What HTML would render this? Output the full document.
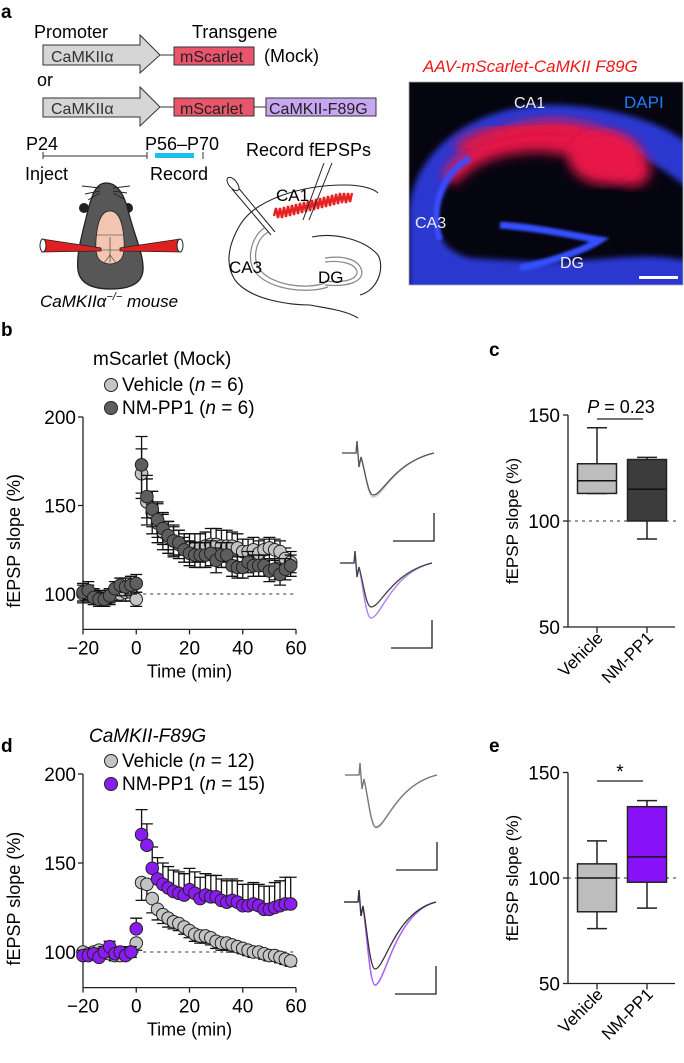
<!DOCTYPE html>
<html><head><meta charset="utf-8"><style>
html,body{margin:0;padding:0;background:#fff}
svg{display:block;font-family:"Liberation Sans",Arial,sans-serif}
</style></head><body>
<svg id="fig" width="684" height="1063" viewBox="0 0 684 1063" xmlns="http://www.w3.org/2000/svg">
<defs>
<filter id="blur6"><feGaussianBlur stdDeviation="6"/></filter>
<filter id="blur3"><feGaussianBlur stdDeviation="3"/></filter>
<filter id="blur1"><feGaussianBlur stdDeviation="1.2"/></filter>
<clipPath id="micClip"><rect x="409" y="82" width="274" height="203"/></clipPath>
</defs>

<!-- Panel a -->
<g>
<text x="1" y="18" font-size="19" font-weight="bold">a</text>
<text x="34" y="38" font-size="18">Promoter</text>
<text x="192" y="38" font-size="18">Transgene</text>
<path d="M43,45 H140 V35 L160,55 L140,73 V65 H43 Z" fill="#d6d6d6" stroke="#333" stroke-width="1"/>
<text x="51" y="62" font-size="16" fill="#333">CaMKIIα</text>
<line x1="160" y1="55" x2="174" y2="55" stroke="#333"/>
<rect x="174" y="47" width="80" height="18" fill="#e9566b" stroke="#333"/>
<text x="180" y="62" font-size="16" fill="#222">mScarlet</text>
<text x="264" y="62" font-size="18">(Mock)</text>
<text x="37" y="86" font-size="18">or</text>
<path d="M43,98 H140 V87 L160,107 L140,126 V117 H43 Z" fill="#d6d6d6" stroke="#333" stroke-width="1"/>
<text x="51" y="114" font-size="16" fill="#333">CaMKIIα</text>
<line x1="160" y1="107" x2="174" y2="107" stroke="#333"/>
<rect x="174" y="98" width="80" height="18" fill="#e9566b" stroke="#333"/>
<text x="180" y="114" font-size="16" fill="#222">mScarlet</text>
<line x1="254" y1="107" x2="266" y2="107" stroke="#333"/>
<rect x="266" y="98" width="110" height="18" fill="#c9a6f2" stroke="#333"/>
<text x="269" y="114" font-size="16" fill="#222">CaMKII-F89G</text>
<!-- timeline -->
<text x="26" y="150" font-size="18">P24</text>
<text x="145" y="150" font-size="18">P56–P70</text>
<line x1="43" y1="156" x2="147" y2="156" stroke="#333"/>
<line x1="43" y1="152" x2="43" y2="159" stroke="#333"/>
<line x1="147" y1="152" x2="147" y2="159" stroke="#333"/>
<line x1="203" y1="152" x2="203" y2="159" stroke="#333"/>
<rect x="155" y="153" width="39" height="5" fill="#1bbfec"/>
<text x="25" y="180" font-size="18">Inject</text>
<text x="150" y="180" font-size="18">Record</text>
<!-- mouse -->
<g>
<circle cx="84" cy="208" r="5" fill="#222"/><circle cx="128" cy="208" r="5" fill="#222"/>
<path d="M106,183 C96,183 92,195 88,210 C82,235 76,255 78,270 C80,285 95,289 111,289 C127,289 142,285 143,270 C144,255 134,235 128,210 C124,195 118,183 106,183 Z" fill="#575757" stroke="#222" stroke-width="1.3"/>
<path d="M110,211 C100,211 97,225 96,240 C95,255 97,263 110,264 C123,263 125,255 124,240 C123,225 120,211 110,211 Z" fill="#f2c6b2" stroke="#222" stroke-width="0.8"/>
<path d="M97,235 H123 M96,250 H124 M110,237 V262 M104,263 L110,255 L116,263" stroke="#333" stroke-width="0.6" fill="none"/>
<g stroke="#222" stroke-width="0.9"><line x1="100" y1="188" x2="82" y2="186"/><line x1="100" y1="191" x2="85" y2="194"/><line x1="100" y1="193" x2="88" y2="200"/><line x1="113" y1="188" x2="130" y2="186"/><line x1="113" y1="191" x2="127" y2="193"/><line x1="113" y1="193" x2="124" y2="199"/></g>
<path d="M42,239 L101,248 L101,251 L42,252 Z" fill="#e02020" stroke="#222" stroke-width="0.8"/>
<ellipse cx="43" cy="245.5" rx="3" ry="6.5" fill="#fff" stroke="#222"/>
<path d="M180,239 L120,248 L120,251 L180,252 Z" fill="#e02020" stroke="#222" stroke-width="0.8"/>
<ellipse cx="180" cy="245.5" rx="3" ry="6.5" fill="#fff" stroke="#222"/>
</g>
<text x="40" y="307" font-size="17" font-style="italic">CaMKIIα<tspan font-size="11" dy="-7">−/−</tspan><tspan dy="7"> mouse</tspan></text>
<!-- hippocampus sketch -->
<g fill="none">
<path d="M240,225 C255,200 300,185 345,185 C365,185 375,190 378,193 M240,225 C228,245 225,265 235,280 C250,300 290,305 310,305" stroke="#222" stroke-width="1.1"/>
<path d="M310,305 C325,308 345,310 358,318" stroke="#222" stroke-width="1.1"/>
<path d="M312,237 C335,232 365,240 378,255 C385,268 378,290 360,295" stroke="#222" stroke-width="1.1"/>
<path d="M268,232 C255,240 252,260 260,270 C272,285 305,290 325,283" stroke="#888" stroke-width="1.2"/>
<path d="M264,228 C250,238 246,262 256,273 C270,290 308,294 328,287" stroke="#888" stroke-width="1.2"/>
<path d="M325,258 C345,255 360,260 362,272 C362,283 345,287 325,285 M325,262 C342,260 356,264 357,272 C357,280 343,283 325,281" stroke="#888" stroke-width="1.2"/>
<path d="M274,216 l2,-8 l2,10 l2,-10 l2,10 l2,-11 l2,10 l2,-11 l2,10 l2,-11 l2,10 l2,-11 l2,10 l2,-11 l2,10 l2,-11 l2,10 l2,-11 l2,10 l2,-11 l2,10 l2,-11 l2,10 l2,-11 l2,10 l2,-11 l2,10 l2,-11 l2,10 l2,-11 l2,10 l2,-11 l2,10 l2,-11 l2,10 l2,-10 l2,10 l2,-10 l2,9 l2,-9" stroke="#e52222" stroke-width="2.4"/>
<line x1="236" y1="185" x2="275" y2="232" stroke="#222"/><line x1="232" y1="189" x2="271" y2="235" stroke="#222"/>
<ellipse cx="233" cy="184" rx="4" ry="8" transform="rotate(-40 233 184)" stroke="#222" fill="#fff"/>
<line x1="324" y1="163" x2="303" y2="220" stroke="#222"/><line x1="332" y1="163" x2="309" y2="220" stroke="#222"/>
</g>
<text x="246" y="156" font-size="18">Record fEPSPs</text>
<text x="276" y="201" font-size="17">CA1</text>
<text x="229" y="273" font-size="17">CA3</text>
<text x="318" y="283" font-size="17">DG</text>
<!-- microscope -->
<text x="423" y="72" font-size="17" font-style="italic" fill="#f01818">AAV-mScarlet-CaMKII F89G</text>
<g clip-path="url(#micClip)">
<rect x="409" y="82" width="274" height="203" fill="#050510"/>
<path d="M409,210 C415,150 470,110 540,105 C600,103 660,120 690,145 L690,190 C660,165 620,140 560,135 C500,133 455,160 440,200 C432,230 440,250 470,258 L540,262 C600,262 650,250 690,262 L690,290 L409,290 Z" fill="#2a37d0" filter="url(#blur3)"/>
<path d="M442,175 C465,140 510,120 555,120 C600,122 635,140 650,165 C652,185 635,192 615,180 C595,165 570,150 530,152 C495,154 470,165 455,185 Z" fill="#e8154a" filter="url(#blur6)"/>
<path d="M460,150 C490,130 540,126 575,130" stroke="#e01642" stroke-width="16" fill="none" filter="url(#blur6)"/>
<ellipse cx="605" cy="158" rx="36" ry="26" fill="#e8154a" filter="url(#blur6)"/>
<path d="M440,240 C430,210 440,175 470,158" stroke="#3a4cff" stroke-width="6" fill="none" filter="url(#blur1)"/>
<path d="M500,225 C540,228 570,235 600,240 C585,250 550,262 520,268" stroke="#3550ff" stroke-width="7" fill="none" filter="url(#blur1)"/>
</g>
<rect x="409" y="82" width="274" height="203" fill="none" stroke="#aaa" stroke-width="0.8"/>
<text x="514" y="108" font-size="16" fill="#eee">CA1</text>
<text x="624" y="108" font-size="17" fill="#1e7bff">DAPI</text>
<text x="415" y="228" font-size="16" fill="#eee">CA3</text>
<text x="560" y="268" font-size="16" fill="#eee">DG</text>
<rect x="639" y="276" width="39" height="3" fill="#fff"/>
</g>

<!-- Panel labels -->
<text x="1" y="336" font-size="19" font-weight="bold">b</text>
<text x="489" y="356" font-size="19" font-weight="bold">c</text>
<text x="1" y="752" font-size="19" font-weight="bold">d</text>
<text x="489" y="752" font-size="19" font-weight="bold">e</text>
<g id="layer"></g>
</svg>
<script>
// ===== Panel b data =====
const timesBase = [-20,-18,-16,-14,-12,-10,-8,-6,-4,-2,0];
const timesPost = [2,4,6,8,10,12,14,16,18,20,22,24,26,28,30,32,34,36,38,40,42,44,46,48,50,52,54,56,58];
const bVehBase = [100,100,99,98,97,98,100,100,101,101,97];
const bVehPost = [168,152,146,140,135,132,130,128,126,126,126,126,127,128,128,127,127,127,126,124,124,125,123,125,126,125,124,120,118];
const bVehErr = [5,5,4,4,4,4,4,4,5,5,4, 14,13,12,11,10,9,9,8,8,8,8,8,8,9,9,9,9,8,8,7,7,7,7,6,6,6,6,6,6];
const bNmBase = [101,102,98,97,97,99,103,105,104,105,106];
const bNmPost = [173,155,148,142,137,133,130,129,125,123,122,122,122,123,119,122,122,116,115,115,118,116,116,116,113,114,111,114,116];
const bNmErr = [5,5,4,4,4,4,4,4,5,5,5, 16,12,10,10,9,8,8,7,7,7,7,7,7,7,7,7,7,6,6,6,6,6,6,6,6,6,6,6,6];
// ===== Panel d data =====
const dVehBase = [100,99,100,101,100,99,98,98,99,100,105];
const dVehPost = [139,138,130,124,121,119,117,116,114,112,110,109,109,108,106,105,105,104,103,102,101,100,100,99,98,98,97,96,95];
const dVehErr = [3,3,3,3,3,3,3,3,3,3,4, 10,9,8,6,5,5,4,4,4,4,4,4,4,4,4,4,4,4,3,3,3,3,3,3,3,3,3,3,3];
const dNmBase = [98,98,99,97,100,103,99,100,98,100,113];
const dNmPost = [166,160,147,141,138,136,134,133,132,135,133,130,132,131,131,129,128,129,128,126,126,127,126,124,124,125,126,127,127];
const dNmErr = [3,3,3,3,3,3,3,3,3,3,6, 14,12,12,12,12,12,12,12,12,12,12,12,12,12,12,12,12,12,12,12,12,12,12,13,13,14,14,15,15];
// ===== Box plot data [min, q1, median, q3, max] =====
const boxCats = ["Vehicle","NM-PP1"];
const cVehicle = [113,113,119,127,144];
const cNmpp1 = [91.5,100,115,129,130];
const eVehicle = [76,84,100,106.7,117.6];
const eNmpp1 = [85.7,98,110,133.8,136.7];
const yTicksTS = [100,150,200];
const xTicksTS = [-20,0,20,40,60];
const yTicksBox = [50,100,150];

const NS="http://www.w3.org/2000/svg";
const layer=document.getElementById('layer');
function mk(tag,attrs,parent){const e=document.createElementNS(NS,tag);for(const k in attrs)e.setAttribute(k,attrs[k]);(parent||layer).appendChild(e);return e;}
function txt(x,y,s,attrs,parent){const e=mk('text',Object.assign({x:x,y:y,'font-size':15},attrs||{}),parent);e.textContent=s;return e;}

function timeSeries(cfg){
  const g=mk('g',{});
  
  
  const X=t=>cfg.x0+(t+20)*(cfg.x1-cfg.x0)/80;
  const Y=v=>cfg.y100-(v-100)*cfg.pxPer50/50;
  const yBottom=Y(80);
  const ya=mk('line',{x1:cfg.x0,y1:Y(200),x2:cfg.x0,y2:yBottom,stroke:'#222','stroke-width':1.3},g);
  
  const xa=mk('line',{x1:cfg.x0,y1:yBottom,x2:cfg.x1,y2:yBottom,stroke:'#222','stroke-width':1.3},g);
  
  yTicksTS.forEach(v=>{mk('line',{x1:cfg.x0-5,y1:Y(v),x2:cfg.x0,y2:Y(v),stroke:'#222','stroke-width':1.3},g);
    const t=txt(cfg.x0-7,Y(v)+7,String(v),{'text-anchor':'end','font-size':19},g);
    });
  xTicksTS.forEach(v=>{mk('line',{x1:X(v),y1:yBottom,x2:X(v),y2:yBottom+5,stroke:'#222','stroke-width':1.3},g);
    const t=txt(X(v),yBottom+25,v<0?'−'+Math.abs(v):String(v),{'text-anchor':'middle','font-size':19},g);
    });
  const xt=txt((cfg.x0+cfg.x1)/2,yBottom+48,'Time (min)',{'text-anchor':'middle','font-size':18},g);
  
  const yt=txt(0,0,'fEPSP slope (%)',{'text-anchor':'middle','font-size':18,transform:`translate(${cfg.x0-63},${Y(130)}) rotate(-90)`},g);
  
  mk('line',{x1:X(0),y1:Y(100),x2:cfg.x1,y2:Y(100),stroke:'#333','stroke-width':1,'stroke-dasharray':'3,4'},g);
  const times=timesBase.concat(timesPost);
  cfg.series.forEach(s=>{
    const vals=s.base.concat(s.post);
    const sg=mk('g',{},g);
    
    vals.forEach((v,i)=>{const x=X(times[i]),e=s.err[i];
      const up=s.dir==='up'||s.dir==='both',dn=s.dir==='down'||s.dir==='both';
      const top=up?Y(v+e):Y(v),bot=dn?Y(v-e):Y(v);
      const eb=mk('path',{d:`M${x},${top}V${bot}`+(up?`M${x-6},${top}H${x+6}`:'')+(dn?`M${x-6},${bot}H${x+6}`:''),stroke:'#111','stroke-width':1.3,fill:'none'},sg);
      });
    vals.forEach((v,i)=>{const c=mk('circle',{cx:X(times[i]),cy:Y(v),r:6.3,fill:s.color,stroke:'#222','stroke-width':1},sg);
      });
  });
}

timeSeries({name:'panel-b-chart',x0:83,x1:296,y100:594,pxPer50:88.5,series:[
  {name:'vehicle-series',base:bVehBase,post:bVehPost,err:bVehErr,color:'#c4c4c4',dir:'both'},
  {name:'nmpp1-series',base:bNmBase,post:bNmPost,err:bNmErr,color:'#5e5e5e',dir:'both'}]});
timeSeries({name:'panel-d-chart',x0:83,x1:296,y100:952,pxPer50:89,series:[
  {name:'vehicle-series',base:dVehBase,post:dVehPost,err:dVehErr,color:'#c4c4c4',dir:'down'},
  {name:'nmpp1-series',base:dNmBase,post:dNmPost,err:dNmErr,color:'#8a1cf2',dir:'up'}]});

// legends & titles
txt(93,365,'mScarlet (Mock)',{'font-size':19,});
[['#c4c4c4','Vehicle ','6',391],['#5e5e5e','NM-PP1 ','6',414]].forEach(l=>{
  const c=mk('circle',{cx:111,cy:l[3]-6,r:6.5,fill:l[0],stroke:'#222'});
  
  const t=txt(122,l[3],l[1]+'(',{'font-size':19});
  
  const ts=mk('tspan',{'font-style':'italic'},t);ts.textContent='n';
  const ts2=mk('tspan',{},t);ts2.textContent=' = '+l[2]+')';});
txt(89,742,'CaMKII-F89G',{'font-size':19,'font-style':'italic',});
[['#c4c4c4','Vehicle ','12',767],['#8a1cf2','NM-PP1 ','15',790]].forEach(l=>{
  const c=mk('circle',{cx:111,cy:l[3]-6,r:6.5,fill:l[0],stroke:'#222'});
  
  const t=txt(122,l[3],l[1]+'(',{'font-size':19});
  
  const ts=mk('tspan',{'font-style':'italic'},t);ts.textContent='n';
  const ts2=mk('tspan',{},t);ts2.textContent=' = '+l[2]+')';});

// traces
function trace(x0,y0,depth){
  const xs=x0+14, xt=x0+31, xe=x0+92;
  return `M${x0},${y0} H${xs} L${xs+1},${y0-12} L${xs+3},${y0+14} L${xs+5},${y0+4} C${xs+9},${y0+depth*0.4} ${xt-5},${y0+depth} ${xt},${y0+depth} C${xt+10},${y0+depth} ${xt+20},${y0+10} ${xe},${y0}`;
}
function traces(name,x0,y0,dGrey,dColor,colorA,colorB,scaleTop){
  const g=mk('g',{});
  const a=mk('path',{d:trace(x0,y0,dColor),stroke:colorA,'stroke-width':1.5,fill:'none'},g);
  
  const b=mk('path',{d:trace(x0,y0,dGrey),stroke:colorB,'stroke-width':1.3,fill:'none'},g);
  
  const s=mk('path',{d:`M${x0+92},${scaleTop} V${scaleTop+28} H${x0+51}`,stroke:'#222','stroke-width':1.3,fill:'none'},g);
  
}
traces('trace-b-mock',342,453,42,44,'#c8c8c8','#555',513);
traces('trace-b-f89g',340,563,44,55,'#b784f0','#444',620);
traces('trace-d-mock',345,775,52,53,'#c8c8c8','#777',842);
traces('trace-d-f89g',344,902,67,83,'#a560f5','#333',966);

// box plots
function boxPlot(cfg){
  const g=mk('g',{});
  const Y=v=>cfg.y100-(v-100)*cfg.px/50;
  const ya=mk('line',{x1:568,y1:Y(150),x2:568,y2:Y(50),stroke:'#222','stroke-width':1.3},g);
  
  const xa=mk('line',{x1:568,y1:Y(50),x2:675,y2:Y(50),stroke:'#222','stroke-width':1.3},g);
  
  yTicksBox.forEach(v=>{mk('line',{x1:563,y1:Y(v),x2:568,y2:Y(v),stroke:'#222','stroke-width':1.3},g);
    const t=txt(560,Y(v)+7,String(v),{'text-anchor':'end','font-size':19},g);
    });
  const yt=txt(0,0,'fEPSP slope (%)',{'text-anchor':'middle','font-size':17,transform:`translate(${518},${Y(100)}) rotate(-90)`},g);
  
  mk('line',{x1:568,y1:Y(100),x2:676,y2:Y(100),stroke:'#333','stroke-dasharray':'3,4'},g);
  const centers=[597,647];
  [cfg.a,cfg.b].forEach((d,i)=>{const c=centers[i];
    mk('line',{x1:c,y1:Y(50),x2:c,y2:Y(50)+6,stroke:'#222','stroke-width':1.3},g);
    const l=txt(0,0,boxCats[i],{'text-anchor':'end','font-size':17,transform:`translate(${c+7},${Y(50)+12}) rotate(-45)`},g);
    
    const w=mk('path',{d:`M${c},${Y(d[0])}V${Y(d[1])}M${c},${Y(d[3])}V${Y(d[4])}M${c-10},${Y(d[0])}H${c+10}M${c-10},${Y(d[4])}H${c+10}`,stroke:'#222','stroke-width':1.5,fill:'none'},g);
    
    const r=mk('rect',{x:c-19.5,y:Y(d[3]),width:39,height:Y(d[1])-Y(d[3]),fill:cfg.colors[i],stroke:'#222','stroke-width':1.5},g);
    
    const m=mk('line',{x1:c-19.5,y1:Y(d[2]),x2:c+19.5,y2:Y(d[2]),stroke:'#111','stroke-width':1.5},g);
    });
  const sl=mk('line',{x1:597,y1:cfg.sigY,x2:643,y2:cfg.sigY,stroke:'#222','stroke-width':1.3},g);
  
  const st=txt(cfg.sigTextX,cfg.sigY-cfg.sigOff,'',{'text-anchor':'middle','font-size':cfg.sigSize},g);
  
  if(cfg.p){const i=mk('tspan',{'font-style':'italic'},st);i.textContent='P';const r2=mk('tspan',{},st);r2.textContent=' = 0.23';}
  else st.textContent='*';
}
boxPlot({name:'panel-c-boxplot',y100:521,px:106,a:cVehicle,b:cNmpp1,colors:['#bdbdbd','#3c3c3c'],sigY:419,sigTextX:621,sigSize:18,sigOff:6,p:true});
boxPlot({name:'panel-e-boxplot',y100:878,px:105.5,a:eVehicle,b:eNmpp1,colors:['#bdbdbd','#8a12fa'],sigY:781,sigTextX:620,sigSize:19,sigOff:3,p:false});
</script>
</body></html>
